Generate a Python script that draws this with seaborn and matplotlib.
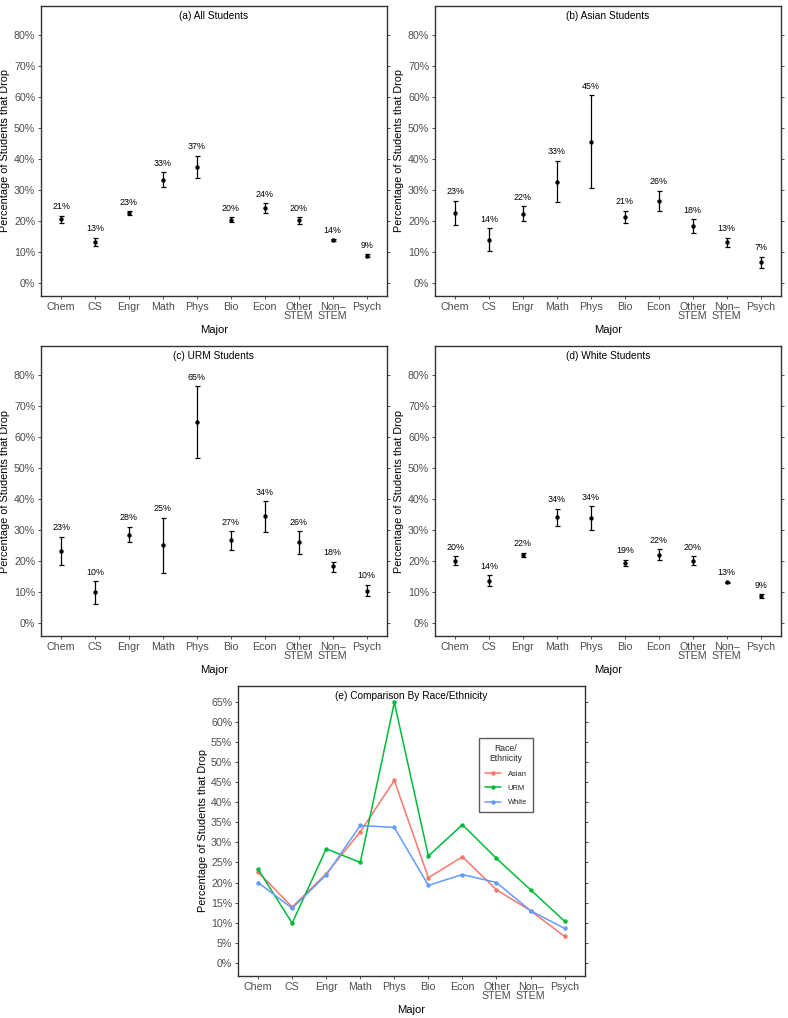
import numpy as np
import pandas as pd
import matplotlib
matplotlib.use("Agg")
import matplotlib.pyplot as plt
import seaborn as sns
from matplotlib.ticker import PercentFormatter

sns.set_theme(style="white")
plt.rcParams['font.family'] = ['Liberation Sans', 'DejaVu Sans']

majors = ["Chem", "CS", "Engr", "Math", "Phys", "Bio", "Econ",
          "Other\nSTEM", "Non\u2013\nSTEM", "Psych"]

# drop rates (%) with lower / upper bounds of the error bars
all_val = [20.6, 13.1, 22.6, 33.2, 37.3, 20.4, 24.1, 20.3, 13.7, 8.7]
all_lo = [19.2, 11.8, 22.0, 30.8, 33.7, 19.6, 22.6, 19.1, 13.4, 8.2]
all_hi = [21.7, 14.6, 23.0, 35.7, 41.0, 21.1, 25.6, 21.2, 14.0, 9.2]

asian_val = [22.6, 13.9, 22.2, 32.6, 45.4, 21.2, 26.4, 18.2, 13.0, 6.6]
asian_lo = [18.7, 10.4, 19.9, 26.0, 30.5, 19.3, 23.3, 16.0, 11.4, 4.9]
asian_hi = [26.5, 17.6, 24.7, 39.4, 60.4, 23.2, 29.7, 20.5, 14.6, 8.4]

urm_val = [23.3, 9.9, 28.4, 25.0, 64.8, 26.6, 34.4, 26.0, 18.2, 10.4]
urm_lo = [18.6, 6.2, 26.0, 16.1, 53.3, 23.4, 29.4, 22.2, 16.4, 8.6]
urm_hi = [27.8, 13.4, 30.9, 33.8, 76.3, 29.6, 39.2, 29.6, 19.7, 12.2]

white_val = [20.0, 13.6, 21.9, 34.2, 33.7, 19.3, 22.0, 20.0, 13.0, 8.6]
white_lo = [18.6, 11.9, 21.2, 31.1, 30.0, 18.3, 20.2, 18.6, 12.7, 7.9]
white_hi = [21.4, 15.3, 22.6, 36.8, 37.6, 20.4, 23.7, 21.4, 13.3, 9.2]

panels = [
    ("(a) All Students", all_val, all_lo, all_hi),
    ("(b) Asian Students", asian_val, asian_lo, asian_hi),
    ("(c) URM Students", urm_val, urm_lo, urm_hi),
    ("(d) White Students", white_val, white_lo, white_hi),
]

W, H = 788, 1018
fig = plt.figure(figsize=(W / 100, H / 100), dpi=100)


def box(l, r, t, b):
    return [l / W, 1 - b / H, (r - l) / W, (b - t) / H]


rects = [box(40.7, 387, 6, 296), box(434.7, 781, 6, 296),
         box(40.7, 387, 346, 636), box(434.7, 781, 346, 636)]

tick_col = "#4D4D4D"
frame_col = "#333333"


def style_axis(ax, ymax, step):
    ax.set_xlim(-0.6, len(majors) - 0.4)
    ax.set_xticks(range(len(majors)))
    ax.set_xticklabels(majors, fontsize=7.7, color=tick_col, linespacing=0.95)
    ax.set_yticks(np.arange(0, ymax + 0.1, step))
    ax.yaxis.set_major_formatter(PercentFormatter(decimals=0))
    ax.tick_params(axis="y", labelsize=7.7, labelcolor=tick_col)
    ax.tick_params(axis="both", direction="out", length=2.5, width=0.6,
                   color=frame_col, pad=1.5, left=True, bottom=True, right=True)
    for s in ax.spines.values():
        s.set_color(frame_col)
        s.set_linewidth(1.0)
    ax.grid(False)
    ax.set_xlabel("Major", fontsize=8.1, color="black", labelpad=3)
    ax.set_ylabel("Percentage of Students that Drop", fontsize=7.8,
                  color="black", labelpad=2.5)


for (title, val, lo, hi), rect in zip(panels, rects):
    ax = fig.add_axes(rect)
    df = pd.DataFrame({"major": majors, "pos": range(len(majors)),
                       "val": val, "lo": lo, "hi": hi})
    ax.errorbar(df["pos"], df["val"],
                yerr=[df["val"] - df["lo"], df["hi"] - df["val"]],
                fmt="none", ecolor="black", elinewidth=0.9, capsize=1.8,
                capthick=0.9, zorder=2)
    sns.scatterplot(data=df, x="pos", y="val", ax=ax, color="black", s=10,
                    linewidth=0, zorder=3)
    for p, v, h in zip(df["pos"], df["val"], df["hi"]):
        ax.text(p, h + 2.9, f"{int(np.floor(v + 0.5))}%", ha="center",
                va="center", fontsize=6.4, color="black")
    ax.text(0.5, 0.965, title, transform=ax.transAxes, ha="center",
            va="center", fontsize=7.3, color="black")
    ax.set_ylim(-4.25, 89.25)
    style_axis(ax, 80, 10)

# (e) comparison
ax = fig.add_axes(box(237.7, 585, 686, 976))
long = pd.DataFrame({
    "pos": list(range(len(majors))) * 3,
    "val": asian_val + urm_val + white_val,
    "group": ["Asian"] * 10 + ["URM"] * 10 + ["White"] * 10,
})
palette = {"Asian": "#F8766D", "URM": "#00BA38", "White": "#619CFF"}
sns.lineplot(data=long, x="pos", y="val", hue="group", palette=palette,
             ax=ax, linewidth=1.1, marker="o", markersize=3.2,
             markeredgewidth=0)
ax.set_ylim(-3.25, 68.9)
style_axis(ax, 65, 5)
ax.text(0.5, 0.965, "(e) Comparison By Race/Ethnicity", transform=ax.transAxes,
        ha="center", va="center", fontsize=7.3, color="black")
leg = ax.legend(title="Race/\nEthnicity", loc="upper left",
                bbox_to_anchor=(0.695, 0.821), borderaxespad=0, fontsize=5.4,
                title_fontsize=6.2, frameon=True, fancybox=False,
                handlelength=2.1, borderpad=0.8, labelspacing=0.95,
                handletextpad=0.9)
leg.get_title().set_multialignment("center")
leg.get_frame().set_edgecolor(frame_col)
leg.get_frame().set_linewidth(1.0)

fig.savefig("out.png", dpi=100)
